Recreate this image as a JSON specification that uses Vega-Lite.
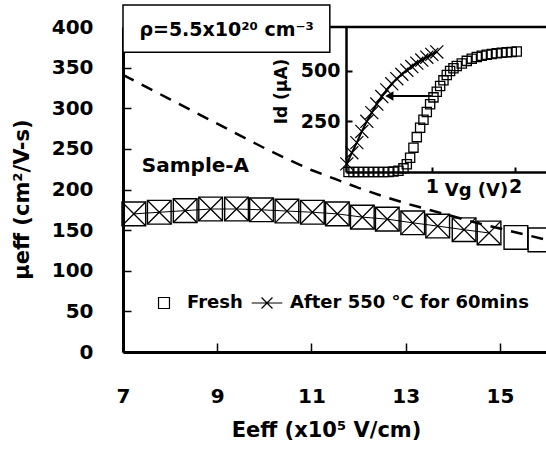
{
  "$schema": "https://vega.github.io/schema/vega-lite/v6.json",
  "width": 424,
  "height": 325,
  "autosize": "none",
  "padding": {"left": 123, "top": 27, "right": 0, "bottom": 103},
  "background": "white",
  "config": {
    "view": {"stroke": null},
    "font": "DejaVu Sans",
    "axis": {"grid": false, "domainColor": "black", "tickColor": "black", "labelColor": "black", "titleColor": "black", "labelFont": "DejaVu Sans", "titleFont": "DejaVu Sans", "labelFontWeight": "bold", "titleFontWeight": "bold", "labelFlush": false, "labelOverlap": false}
  },
  "datasets": {
    "mobility": [
      {"E": 7.23, "mu": 170, "series": "Fresh"},
      {"E": 7.77, "mu": 172, "series": "Fresh"},
      {"E": 8.32, "mu": 174, "series": "Fresh"},
      {"E": 8.86, "mu": 176, "series": "Fresh"},
      {"E": 9.41, "mu": 176, "series": "Fresh"},
      {"E": 9.94, "mu": 175, "series": "Fresh"},
      {"E": 10.48, "mu": 173.5, "series": "Fresh"},
      {"E": 11.02, "mu": 172, "series": "Fresh"},
      {"E": 11.55, "mu": 170, "series": "Fresh"},
      {"E": 12.08, "mu": 166, "series": "Fresh"},
      {"E": 12.61, "mu": 163.5, "series": "Fresh"},
      {"E": 13.15, "mu": 159, "series": "Fresh"},
      {"E": 13.68, "mu": 155, "series": "Fresh"},
      {"E": 14.24, "mu": 150.5, "series": "Fresh"},
      {"E": 14.77, "mu": 146.5, "series": "Fresh"},
      {"E": 15.34, "mu": 141, "series": "Fresh"},
      {"E": 15.85, "mu": 138, "series": "Fresh"},
      {"E": 7.23, "mu": 170, "series": "After 550 °C for 60mins"},
      {"E": 7.77, "mu": 172, "series": "After 550 °C for 60mins"},
      {"E": 8.32, "mu": 174, "series": "After 550 °C for 60mins"},
      {"E": 8.86, "mu": 176, "series": "After 550 °C for 60mins"},
      {"E": 9.41, "mu": 176, "series": "After 550 °C for 60mins"},
      {"E": 9.94, "mu": 175, "series": "After 550 °C for 60mins"},
      {"E": 10.48, "mu": 173.5, "series": "After 550 °C for 60mins"},
      {"E": 11.02, "mu": 172, "series": "After 550 °C for 60mins"},
      {"E": 11.55, "mu": 170, "series": "After 550 °C for 60mins"},
      {"E": 12.08, "mu": 166, "series": "After 550 °C for 60mins"},
      {"E": 12.61, "mu": 163.5, "series": "After 550 °C for 60mins"},
      {"E": 13.15, "mu": 159, "series": "After 550 °C for 60mins"},
      {"E": 13.68, "mu": 155, "series": "After 550 °C for 60mins"},
      {"E": 14.24, "mu": 150.5, "series": "After 550 °C for 60mins"},
      {"E": 14.77, "mu": 146.5, "series": "After 550 °C for 60mins"}
    ],
    "dashed": [
      {"E": 7.0, "mu": 341},
      {"E": 7.5, "mu": 326},
      {"E": 8.0, "mu": 311},
      {"E": 8.5, "mu": 296},
      {"E": 9.0, "mu": 281},
      {"E": 9.5, "mu": 266},
      {"E": 10.0, "mu": 251},
      {"E": 10.5, "mu": 237},
      {"E": 11.0, "mu": 224},
      {"E": 11.5, "mu": 213},
      {"E": 12.0, "mu": 202},
      {"E": 12.5, "mu": 192},
      {"E": 13.0, "mu": 183},
      {"E": 13.5, "mu": 175},
      {"E": 14.0, "mu": 167},
      {"E": 14.5, "mu": 159},
      {"E": 15.0, "mu": 152},
      {"E": 15.5, "mu": 145},
      {"E": 16.0, "mu": 138}
    ],
    "inset": [
      {"Vg": 0.00, "Id": 0, "series": "Fresh"},
      {"Vg": 0.06, "Id": 0, "series": "Fresh"},
      {"Vg": 0.12, "Id": 0, "series": "Fresh"},
      {"Vg": 0.18, "Id": 0, "series": "Fresh"},
      {"Vg": 0.24, "Id": 0, "series": "Fresh"},
      {"Vg": 0.30, "Id": 0, "series": "Fresh"},
      {"Vg": 0.36, "Id": 0, "series": "Fresh"},
      {"Vg": 0.42, "Id": 0, "series": "Fresh"},
      {"Vg": 0.48, "Id": 0, "series": "Fresh"},
      {"Vg": 0.54, "Id": 2, "series": "Fresh"},
      {"Vg": 0.60, "Id": 6, "series": "Fresh"},
      {"Vg": 0.66, "Id": 18, "series": "Fresh"},
      {"Vg": 0.70, "Id": 38, "series": "Fresh"},
      {"Vg": 0.74, "Id": 70, "series": "Fresh"},
      {"Vg": 0.78, "Id": 120, "series": "Fresh"},
      {"Vg": 0.82, "Id": 172, "series": "Fresh"},
      {"Vg": 0.86, "Id": 218, "series": "Fresh"},
      {"Vg": 0.90, "Id": 258, "series": "Fresh"},
      {"Vg": 0.94, "Id": 296, "series": "Fresh"},
      {"Vg": 0.98, "Id": 334, "series": "Fresh"},
      {"Vg": 1.02, "Id": 368, "series": "Fresh"},
      {"Vg": 1.06, "Id": 396, "series": "Fresh"},
      {"Vg": 1.10, "Id": 424, "series": "Fresh"},
      {"Vg": 1.14, "Id": 452, "series": "Fresh"},
      {"Vg": 1.18, "Id": 478, "series": "Fresh"},
      {"Vg": 1.22, "Id": 498, "series": "Fresh"},
      {"Vg": 1.26, "Id": 512, "series": "Fresh"},
      {"Vg": 1.30, "Id": 523, "series": "Fresh"},
      {"Vg": 1.36, "Id": 535, "series": "Fresh"},
      {"Vg": 1.42, "Id": 548, "series": "Fresh"},
      {"Vg": 1.48, "Id": 559, "series": "Fresh"},
      {"Vg": 1.54, "Id": 567, "series": "Fresh"},
      {"Vg": 1.60, "Id": 573, "series": "Fresh"},
      {"Vg": 1.66, "Id": 578, "series": "Fresh"},
      {"Vg": 1.72, "Id": 582, "series": "Fresh"},
      {"Vg": 1.78, "Id": 585, "series": "Fresh"},
      {"Vg": 1.84, "Id": 588, "series": "Fresh"},
      {"Vg": 1.90, "Id": 590, "series": "Fresh"},
      {"Vg": 1.96, "Id": 592, "series": "Fresh"},
      {"Vg": 2.02, "Id": 594, "series": "Fresh"},
      {"Vg": -0.02, "Id": 40, "series": "Annealed"},
      {"Vg": 0.04, "Id": 95, "series": "Annealed"},
      {"Vg": 0.10, "Id": 145, "series": "Annealed"},
      {"Vg": 0.16, "Id": 200, "series": "Annealed"},
      {"Vg": 0.22, "Id": 250, "series": "Annealed"},
      {"Vg": 0.28, "Id": 293, "series": "Annealed"},
      {"Vg": 0.34, "Id": 335, "series": "Annealed"},
      {"Vg": 0.40, "Id": 372, "series": "Annealed"},
      {"Vg": 0.46, "Id": 405, "series": "Annealed"},
      {"Vg": 0.52, "Id": 435, "series": "Annealed"},
      {"Vg": 0.58, "Id": 460, "series": "Annealed"},
      {"Vg": 0.64, "Id": 482, "series": "Annealed"},
      {"Vg": 0.70, "Id": 502, "series": "Annealed"},
      {"Vg": 0.76, "Id": 520, "series": "Annealed"},
      {"Vg": 0.82, "Id": 537, "series": "Annealed"},
      {"Vg": 0.88, "Id": 552, "series": "Annealed"},
      {"Vg": 0.94, "Id": 566, "series": "Annealed"},
      {"Vg": 1.00, "Id": 580, "series": "Annealed"},
      {"Vg": 1.06, "Id": 592, "series": "Annealed"}
    ],
    "one": [{}]
  },
  "layer": [
    {
      "layer": [
        {
          "data": {"name": "dashed"},
          "mark": {"type": "line", "color": "black", "strokeWidth": 2.5, "strokeDash": [12, 9]},
          "encoding": {
            "x": {"field": "E", "type": "quantitative", "scale": {"domain": [7, 16], "nice": false, "zero": false},
              "axis": {"values": [7, 9, 11, 13, 15], "tickSize": -9, "tickWidth": 1.5, "domainWidth": 3, "labelFontSize": 20, "labelPadding": 53, "labelBaseline": "middle", "title": "Eeff (x10⁵ V/cm)", "titleFontSize": 21, "titleX": 203, "titleY": 78, "titleBaseline": "middle", "titleAlign": "center"}},
            "y": {"field": "mu", "type": "quantitative", "scale": {"domain": [0, 400], "nice": false},
              "axis": {"values": [0, 50, 100, 150, 200, 250, 300, 350, 400], "tickSize": -8, "tickWidth": 1.5, "domainWidth": 3, "labelFontSize": 20, "labelPadding": 38, "title": "μeff (cm²/V-s)", "titleFontSize": 21, "titleX": -101, "titleY": 172, "titleBaseline": "middle", "titleAlign": "center", "titleAngle": -90}}
          }
        },
        {
          "data": {"name": "mobility"},
          "transform": [{"filter": "datum.series == 'Fresh'"}],
          "mark": {"type": "point", "shape": "square", "filled": false, "color": "black", "strokeWidth": 1.4, "size": 560, "opacity": 1},
          "encoding": {"x": {"field": "E", "type": "quantitative"}, "y": {"field": "mu", "type": "quantitative"}}
        },
        {
          "data": {"name": "mobility"},
          "transform": [{"filter": "datum.series != 'Fresh'"}],
          "mark": {"type": "line", "color": "black", "strokeWidth": 1},
          "encoding": {"x": {"field": "E", "type": "quantitative"}, "y": {"field": "mu", "type": "quantitative"}}
        },
        {
          "data": {"name": "mobility"},
          "transform": [{"filter": "datum.series != 'Fresh'"}],
          "mark": {"type": "point", "shape": "M-1,-1L1,1M-1,1L1,-1", "filled": false, "color": "black", "strokeWidth": 1.3, "size": 560, "opacity": 1},
          "encoding": {"x": {"field": "E", "type": "quantitative"}, "y": {"field": "mu", "type": "quantitative"}}
        },
        {
          "data": {"name": "mobility"},
          "mark": {"type": "point", "filled": false, "color": "black", "opacity": 0, "strokeWidth": 1.2},
          "encoding": {
            "x": {"field": "E", "type": "quantitative"},
            "y": {"field": "mu", "type": "quantitative"},
            "shape": {"field": "series", "type": "nominal",
              "scale": {"domain": ["Fresh", "After 550 °C for 60mins"], "range": ["square", "M-1,-1L1,1M-1,1L1,-1M-2.8,0L2.8,0"]},
              "legend": {"title": null, "orient": "none", "legendX": 32, "legendY": 267, "direction": "horizontal", "symbolSize": 120, "symbolStrokeWidth": 1.2, "symbolStrokeColor": "black", "labelFont": "DejaVu Sans", "labelFontWeight": "bold", "labelFontSize": 18, "labelColor": "black", "labelOffset": 14, "columnPadding": 6, "labelLimit": 400}}
          }
        },
        {
          "data": {"name": "one"},
          "mark": {"type": "rect", "fill": "white", "stroke": "black", "strokeWidth": 1.5},
          "encoding": {"x": {"datum": 7}, "x2": {"datum": 11.39}, "y": {"datum": 369}, "y2": {"datum": 427}}
        },
        {
          "data": {"name": "one"},
          "mark": {"type": "text", "text": "ρ=5.5x10²⁰ cm⁻³", "font": "DejaVu Sans", "fontWeight": "bold", "fontSize": 19, "align": "center", "baseline": "middle", "color": "black"},
          "encoding": {"x": {"datum": 9.2}, "y": {"datum": 396}}
        },
        {
          "data": {"name": "one"},
          "mark": {"type": "text", "text": "Sample-A", "font": "DejaVu Sans", "fontWeight": "bold", "fontSize": 20, "align": "left", "baseline": "middle", "color": "black"},
          "encoding": {"x": {"datum": 7.4}, "y": {"datum": 229}}
        }
      ]
    },
    {
      "layer": [
        {
          "data": {"name": "inset"},
          "transform": [{"filter": "datum.series == 'Fresh'"}],
          "mark": {"type": "point", "shape": "square", "filled": false, "color": "black", "strokeWidth": 1.3, "size": 85, "opacity": 1},
          "encoding": {
            "x": {"field": "Vg", "type": "quantitative", "scale": {"domain": [-0.03, 2.4], "range": [223, 425.4], "nice": false, "zero": false},
              "axis": {"orient": "bottom", "offset": -180, "values": [1, 2], "format": "d", "tickSize": -5, "tickWidth": 2, "domainWidth": 2.5, "labelFontSize": 19, "labelPadding": 19, "labelBaseline": "middle", "title": "Vg (V)", "titleFontSize": 18, "titleX": 353, "titleY": 18, "titleBaseline": "middle", "titleAlign": "center"}},
            "y": {"field": "Id", "type": "quantitative", "scale": {"domain": [0, 715], "range": [145, 0], "nice": false},
              "axis": {"orient": "left", "offset": -223, "values": [250, 500], "tickSize": -6, "tickWidth": 2, "domainWidth": 2.5, "labelFontSize": 19, "labelPadding": 12, "title": "Id (µA)", "titleFontSize": 17, "titleX": -65, "titleY": 64, "titleBaseline": "middle", "titleAlign": "center", "titleAngle": -90}}
          }
        },
        {
          "data": {"name": "inset"},
          "transform": [{"filter": "datum.series == 'Annealed'"}],
          "mark": {"type": "line", "color": "black", "strokeWidth": 2},
          "encoding": {"x": {"field": "Vg", "type": "quantitative"}, "y": {"field": "Id", "type": "quantitative"}}
        },
        {
          "data": {"name": "inset"},
          "transform": [{"filter": "datum.series == 'Annealed'"}],
          "mark": {"type": "point", "shape": "M-1,-1L1,1M-1,1L1,-1", "filled": false, "color": "black", "strokeWidth": 1.2, "size": 170, "opacity": 1},
          "encoding": {"x": {"field": "Vg", "type": "quantitative"}, "y": {"field": "Id", "type": "quantitative"}}
        },
        {
          "data": {"name": "one"},
          "mark": {"type": "rule", "color": "black", "strokeWidth": 2.5},
          "encoding": {"x": {"datum": -0.22}, "x2": {"datum": 2.7}, "y": {"datum": 715}}
        },
        {
          "data": {"name": "one"},
          "mark": {"type": "rule", "color": "black", "strokeWidth": 2},
          "encoding": {"x": {"datum": 0.5}, "x2": {"datum": 1.0}, "y": {"datum": 375}}
        },
        {
          "data": {"name": "one"},
          "mark": {"type": "point", "shape": "triangle-left", "filled": true, "color": "black", "size": 90, "opacity": 1},
          "encoding": {"x": {"datum": 0.49}, "y": {"datum": 375}}
        }
      ]
    }
  ],
  "resolve": {"scale": {"x": "independent", "y": "independent", "shape": "independent"}, "axis": {"x": "independent", "y": "independent"}}
}
